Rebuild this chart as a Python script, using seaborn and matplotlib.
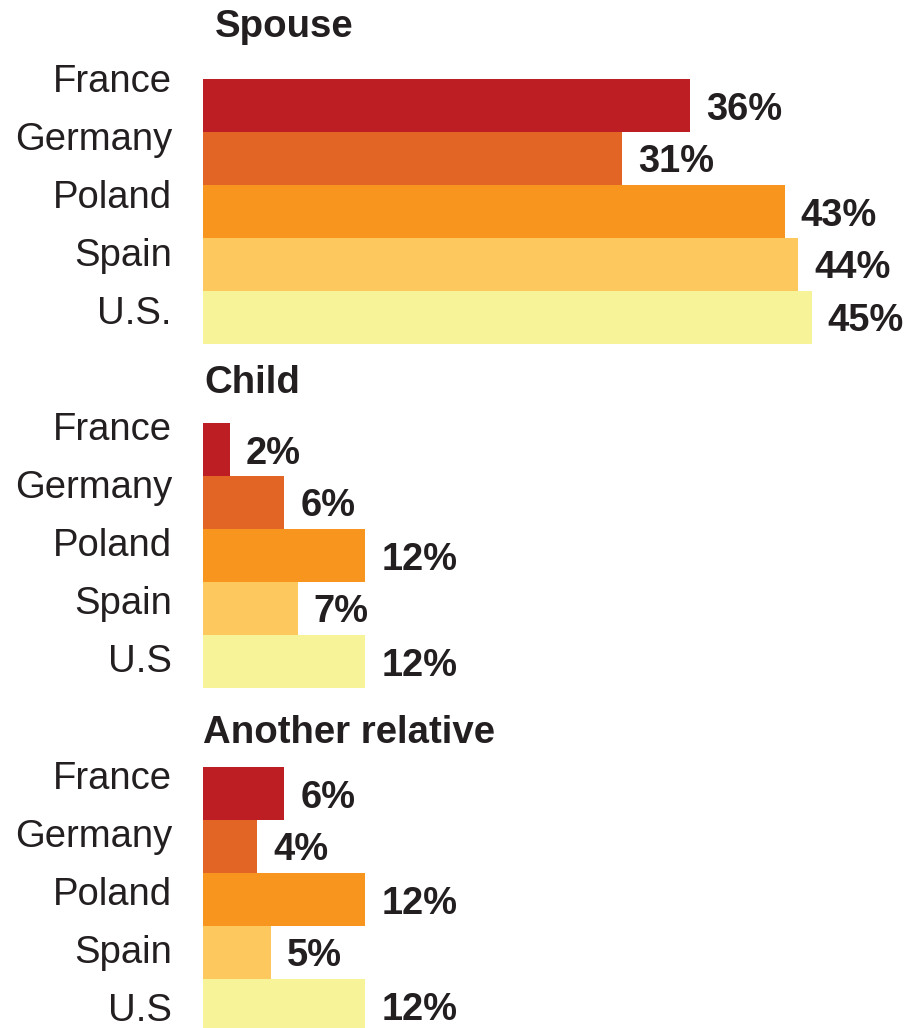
import matplotlib
matplotlib.use("Agg")
import matplotlib.pyplot as plt
import pandas as pd
import seaborn as sns

# ---- data ----------------------------------------------------------------
relations = ["Spouse", "Child", "Another relative"]
countries_spouse = ["France", "Germany", "Poland", "Spain", "U.S."]
countries_other = ["France", "Germany", "Poland", "Spain", "U.S"]
spouse_share = [36, 31, 43, 44, 45]
child_share = [2, 6, 12, 7, 12]
relative_share = [6, 4, 12, 5, 12]
colors = ["#bc1e24", "#e26526", "#f7951f", "#fdc85e", "#f6f399"]

panels = [
    (relations[0], countries_spouse, spouse_share),
    (relations[1], countries_other, child_share),
    (relations[2], countries_other, relative_share),
]

# ---- style ---------------------------------------------------------------
sns.set_theme(style="white")
plt.rcParams["font.family"] = ["Liberation Sans", "DejaVu Sans"]
ink = "#231f20"

W, H = 908, 1028
fig = plt.figure(figsize=(W / 100, H / 100), dpi=100)
fig.patch.set_facecolor("white")

px_per_pct = 13.53
plot_left = 203
plot_width = W - plot_left
bar_px = 53

# (axes top, title x, title baseline, first label baseline) in pixels
layout = [
    (79, 215, 37, 92),
    (423, 204, 393, 440),
    (767, 203, 743, 789),
]
label_step = 58

for (title, names, values), (top, tx, ty, lab0) in zip(panels, layout):
    n = len(names)
    ax = fig.add_axes([plot_left / W, 1 - (top + n * bar_px) / H,
                       plot_width / W, n * bar_px / H])
    df = pd.DataFrame({"country": names, "share": values})
    sns.barplot(data=df, x="share", y="country", hue="country",
                palette=colors, order=names, hue_order=names,
                width=1.0, orient="h", legend=False, linewidth=0,
                saturation=1, ax=ax)
    ax.set_xlim(0, plot_width / px_per_pct)
    ax.set_ylim(n - 0.5, -0.5)
    ax.set_axis_off()

    for i, v in enumerate(values):
        ax.annotate(f"{v}%", xy=(v, i), xytext=(16, -14),
                    textcoords="offset pixels", ha="left", va="baseline",
                    fontsize=27.4, fontweight="bold", color=ink)

    for i, name in enumerate(names):
        fig.text(172 / W, 1 - (lab0 + i * label_step) / H, name,
                 ha="right", va="baseline", fontsize=27.5, color=ink)

    fig.text(tx / W, 1 - ty / H, title, ha="left", va="baseline",
             fontsize=27.6, fontweight="bold", color=ink)

fig.savefig("out.png", dpi=100, facecolor="white")
